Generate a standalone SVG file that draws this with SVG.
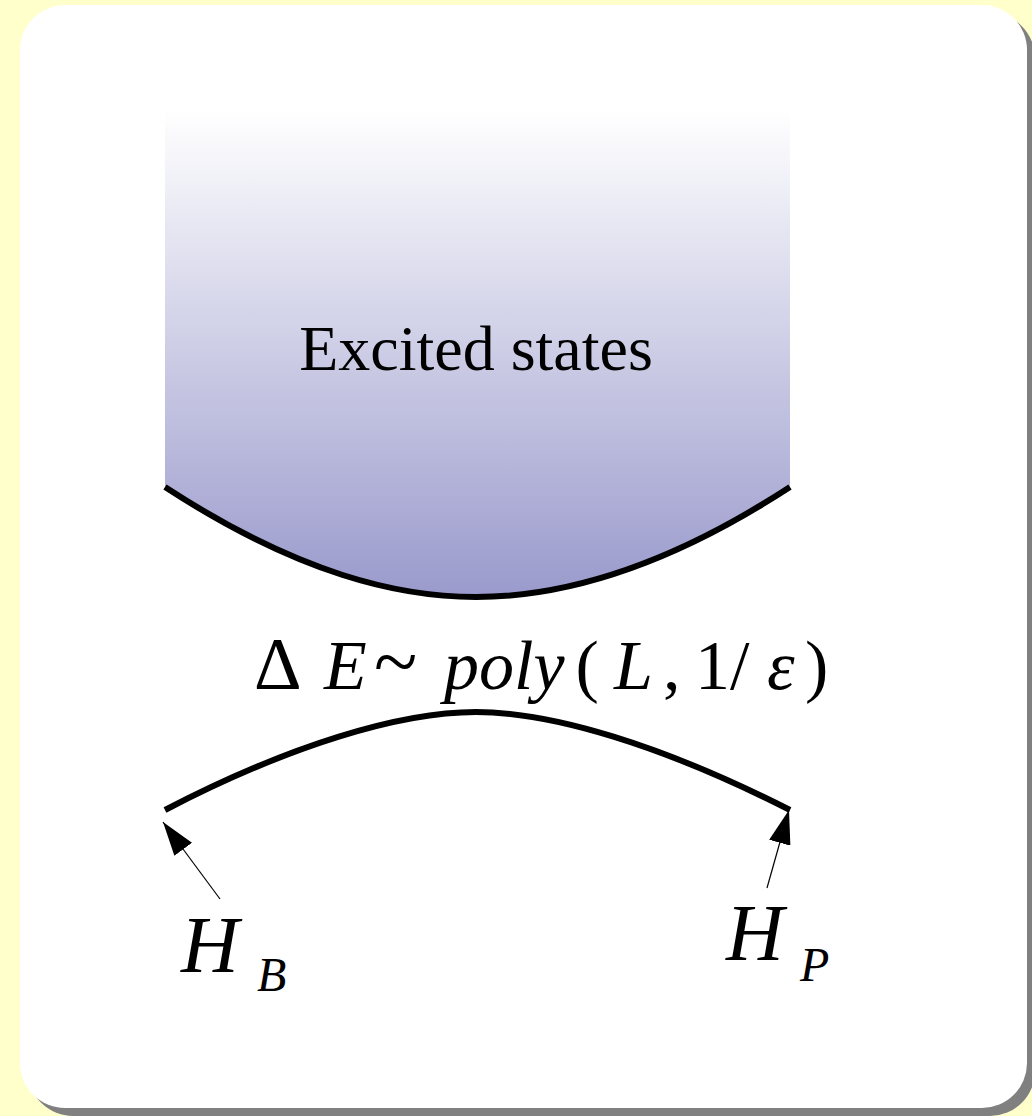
<svg xmlns="http://www.w3.org/2000/svg" width="1032" height="1116" viewBox="0 0 1032 1116">
  <style>
    .curve { fill: none; stroke: #000; stroke-width: 6; }
    .ptr { fill: none; stroke: #000; stroke-width: 1.2; marker-end: url(#ah); }
    .it { font-family: "Liberation Serif", "Times New Roman", serif; font-style: italic; fill: #000; }
    .up { font-family: "Liberation Serif", "Times New Roman", serif; font-style: normal; fill: #000; }
  </style>
  <defs>
    <linearGradient id="exc" gradientUnits="userSpaceOnUse" x1="0" y1="110" x2="0" y2="600">
      <stop offset="0" stop-color="#ffffff"/>
      <stop offset="1" stop-color="#9999cc"/>
    </linearGradient>
    <marker id="ah" viewBox="0 0 34 22" markerWidth="34" markerHeight="22" refX="34" refY="11" markerUnits="userSpaceOnUse" orient="auto">
      <path d="M0,0 L34,11 L0,22 Z" fill="#000"/>
    </marker>
  </defs>

  <g id="background">
    <rect x="0" y="0" width="1032" height="1116" fill="#ffffcc"/>
    <rect x="28" y="13" width="1007" height="1103" rx="45" ry="45" fill="#808080"/>
    <rect x="20" y="5" width="1007" height="1103" rx="45" ry="45" fill="#ffffff"/>
  </g>

  <g id="excited-states">
    <path d="M165,110 H790 V487 C655,575 552,597 476,597 C400,597 300,575 165,487 Z" fill="url(#exc)"/>
    <path class="curve" d="M165,487 C300,575 400,597 476,597 C552,597 655,575 790,487"/>
    <text class="up" x="476" y="370" font-size="64" text-anchor="middle">Excited states</text>
  </g>

  <g id="ground-state">
    <path class="curve" d="M165,810 C290,745 400,712 476,712 C552,712 662,745 790,810"/>
  </g>

  <g id="gap-label">
    <text font-size="70" y="689">
      <tspan class="up" x="254" font-size="74">Δ</tspan><tspan class="it" x="324">E</tspan><tspan class="up" x="374" font-size="80">~</tspan><tspan class="it" x="444">poly</tspan><tspan class="up" x="575.5">(</tspan><tspan class="it" x="614">L</tspan><tspan class="up" x="663">,</tspan><tspan class="up" x="695">1</tspan><tspan class="up" x="730">/</tspan><tspan class="it" x="767">ε</tspan><tspan class="up" x="805">)</tspan>
    </text>
  </g>

  <g id="label-HB">
    <text class="it" x="181" y="972" font-size="80">H</text>
    <text class="it" x="257" y="991" font-size="48">B</text>
  </g>

  <g id="label-HP">
    <text class="it" x="726" y="960" font-size="80">H</text>
    <text class="it" x="800" y="981" font-size="48">P</text>
  </g>

  <g id="connectors">
    <line class="ptr" x1="220" y1="899" x2="163" y2="822"/>
    <line class="ptr" x1="767" y1="888" x2="789" y2="810"/>
  </g>
</svg>
